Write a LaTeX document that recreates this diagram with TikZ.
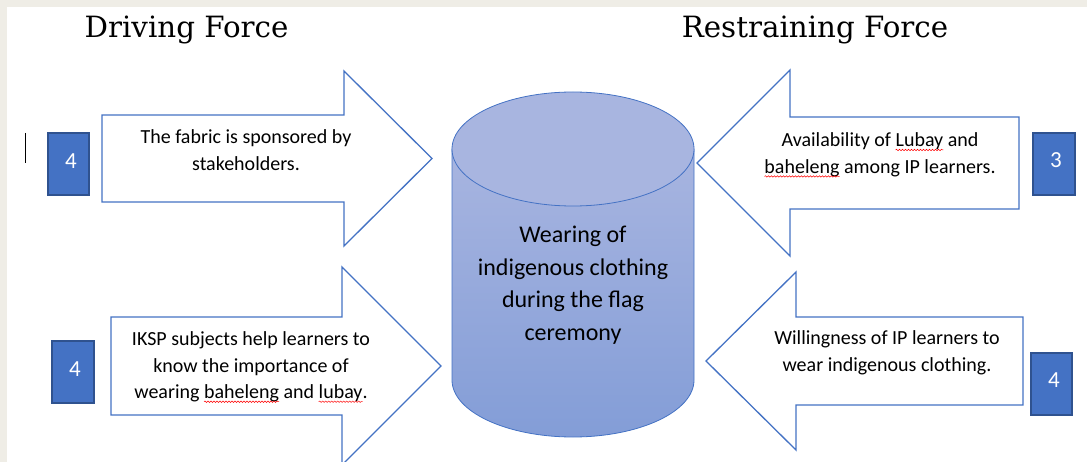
\documentclass[tikz,border=0pt]{standalone}
\usepackage{fontspec}
\setmainfont{Carlito}
\newfontfamily\titlefont{DejaVu Serif}
\usetikzlibrary{decorations.pathmorphing}
\definecolor{pageback}{HTML}{EFEDE6}
\definecolor{arrowline}{HTML}{4472C4}
\definecolor{boxfill}{HTML}{4472C4}
\definecolor{boxline}{HTML}{2F528F}
\definecolor{cyltop}{RGB}{168,181,224}
\definecolor{cylbot}{RGB}{131,157,215}
\newcommand\sqwave[1]{\tikz[baseline=(sqw.base)]{\node[inner sep=0pt,outer sep=0pt](sqw){#1};\draw[overlay,red,line width=0.5pt,decorate,decoration={snake,amplitude=0.7pt,segment length=3pt}]([yshift=-3pt]sqw.base west)--([yshift=-3pt]sqw.base east);}}
\tikzset{
  forcearrow/.style={draw=arrowline,fill=white,line width=1.3pt,line join=miter},
  numbox/.style={draw=boxline,fill=boxfill,line width=1.2pt},
  numtext/.style={text=white,font=\fontsize{23}{26}\selectfont,inner sep=0pt},
  arrowtext/.style={align=center,font=\fontsize{20}{26.5}\selectfont,inner sep=0pt},
  cyltext/.style={align=center,font=\fontsize{24}{32.5}\selectfont,inner sep=0pt},
  title/.style={font=\titlefont\fontsize{29.3}{32}\selectfont,anchor=base,inner sep=0pt}
}
\begin{document}
\begin{tikzpicture}[x=1pt,y=-1pt]
\useasboundingbox (0,0) rectangle (1087,462);
\fill[pageback] (0,0) rectangle (1087,462);
\fill[white] (7,7) rectangle (1087,462);
\begin{scope}
\clip (7,7) rectangle (1087,462);
% titles
\node[title] (tdrive) at (186.5,38) {Driving Force};
\node[title] (trestr) at (815,38) {Restraining Force};
% cursor bar
\draw[black,line width=0.8pt] (25,133) -- (25,163);
% cylinder
\shade[top color=cyltop,bottom color=cylbot,draw=arrowline,line width=0.8pt]
  (694,149) -- (694,380) arc[start angle=0,end angle=180,x radius=121,y radius=57] -- (452,149) -- cycle;
\filldraw[fill=cyltop,draw=arrowline,line width=0.8pt] (573,149) ellipse [x radius=121,y radius=57];
\node[cyltext] (cyl) at (573,285) {Wearing of\\indigenous clothing\\during the flag\\ceremony};
% arrows
\draw[forcearrow] (102,115) -- (344,115) -- (344,71) -- (432,158.5) -- (344,246) -- (344,202) -- (102,202) -- cycle;
\draw[forcearrow] (111,317) -- (342,317) -- (342,267) -- (441,366) -- (342,465) -- (342,415) -- (111,415) -- cycle;
\draw[forcearrow] (1019,117) -- (790,117) -- (790,70) -- (697,163) -- (790,256) -- (790,209) -- (1019,209) -- cycle;
\draw[forcearrow] (1023,317) -- (796,317) -- (796,272) -- (706,361) -- (796,450) -- (796,405) -- (1023,405) -- cycle;
% arrow texts
\node[arrowtext] (a1) at (246,150) {The fabric is sponsored by\\stakeholders.};
\node[arrowtext] (a2) at (251,367) {IKSP subjects help learners to\\know the importance of\\wearing \sqwave{baheleng} and \sqwave{lubay}.};
\node[arrowtext] (a3) at (880,155) {Availability of \sqwave{Lubay} and\\\sqwave{baheleng} among IP learners.};
\node[arrowtext] (a4) at (887,353) {Willingness of IP learners to\\wear indigenous clothing.};
% number boxes
\draw[numbox] (48,133) rectangle (89,195);
\node[numtext] (n1) at (71,161) {4};
\draw[numbox] (52,341) rectangle (94,403);
\node[numtext] (n2) at (75,369) {4};
\draw[numbox] (1033,133) rectangle (1075,195);
\node[numtext] (n3) at (1056,160) {3};
\draw[numbox] (1031,353) rectangle (1072,415);
\node[numtext] (n4) at (1054,380) {4};
\end{scope}
\end{tikzpicture}
\end{document}
